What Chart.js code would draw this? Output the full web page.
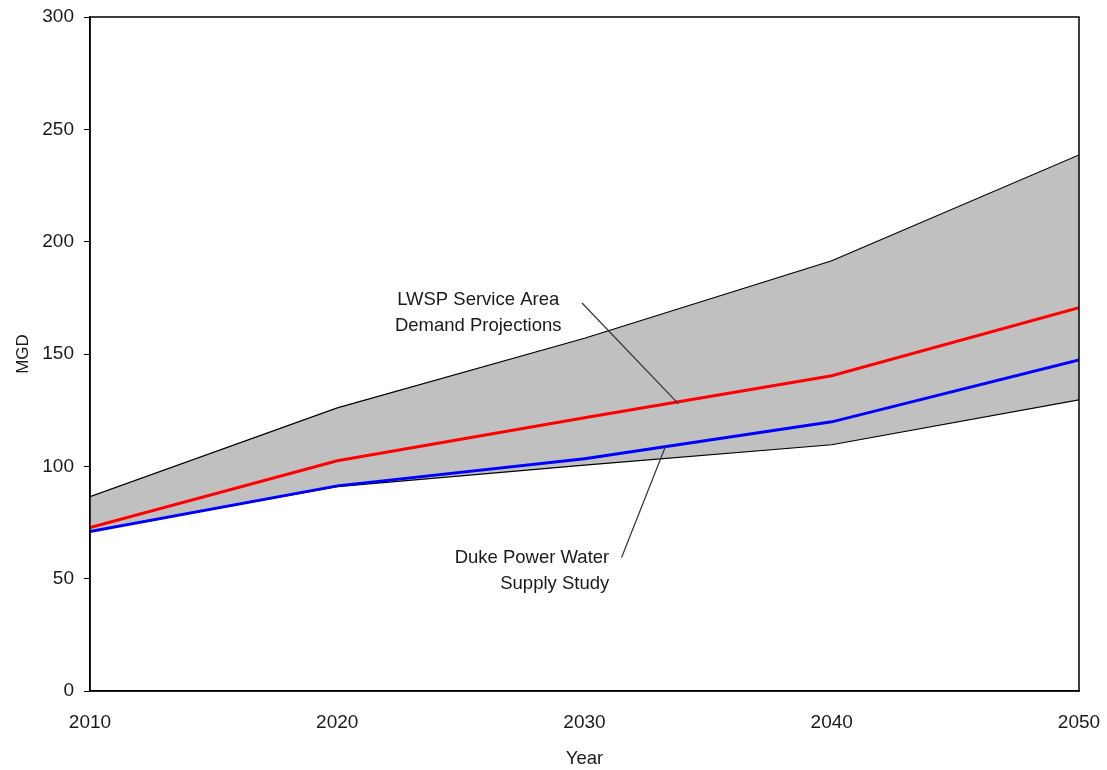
<!DOCTYPE html>
<html>
<head>
<meta charset="utf-8">
<script src="https://cdn.jsdelivr.net/npm/chart.js@4/dist/chart.umd.min.js"></script>
<style>
  html, body { margin: 0; padding: 0; background: #ffffff; }
  #wrap { width: 1107px; height: 770px; position: relative; }
</style>
</head>
<body>
<div id="wrap"><canvas id="c" width="1107" height="770"></canvas></div>
<script>
// Projection years and demand series (MGD)
const years = [2010, 2020, 2030, 2040, 2050];
const rangeHigh = [86.5, 126, 157, 191.5, 238.6];
const rangeLow = [71, 91, 100.5, 109.6, 129.6];
const lwspDemand = [72.7, 102.5, 121.6, 140.3, 170.6];
const dukeStudy = [71, 91.3, 103.4, 119.8, 147.4];
const yTicks = [0, 50, 100, 150, 200, 250, 300];

// Callout labels, anchored in data units (year, MGD)
const callouts = [
  { lines: ['LWSP Service Area', 'Demand Projections'], x: 2025.7, y: [174, 162.6], align: 'center',
    from: [2029.9, 172.7], to: [2033.8, 127.8] },
  { lines: ['Duke Power Water', 'Supply Study'], x: 2031.0, y: [59.4, 47.8], align: 'right',
    from: [2031.5, 59.4], to: [2033.27, 108.7] }
];

const pts = arr => years.map((yr, i) => ({ x: yr, y: arr[i] }));
const FONT = '"Liberation Sans", Arial, sans-serif';
const TXT = '#1a1a1a';

const frame = {
  id: 'frame',
  afterDatasetsDraw(chart) {
    const { ctx, chartArea: a } = chart;
    ctx.save();
    ctx.strokeStyle = '#000';
    ctx.lineWidth = 1.5;
    ctx.strokeRect(a.left, a.top, a.right - a.left, a.bottom - a.top);
    ctx.restore();
  }
};

const calloutPlugin = {
  id: 'callouts',
  afterDraw(chart) {
    const { ctx, scales: { x, y } } = chart;
    ctx.save();
    ctx.font = '18.5px ' + FONT;
    ctx.fillStyle = TXT;
    ctx.textBaseline = 'middle';
    callouts.forEach(c => {
      ctx.textAlign = c.align;
      c.lines.forEach((t, i) => ctx.fillText(t, x.getPixelForValue(c.x), y.getPixelForValue(c.y[i])));
      ctx.beginPath();
      ctx.strokeStyle = '#333';
      ctx.lineWidth = 1.2;
      ctx.moveTo(x.getPixelForValue(c.from[0]), y.getPixelForValue(c.from[1]));
      ctx.lineTo(x.getPixelForValue(c.to[0]), y.getPixelForValue(c.to[1]));
      ctx.stroke();
    });
    ctx.restore();
  }
};

new Chart(document.getElementById('c'), {
  type: 'line',
  data: {
    datasets: [
      { label: 'High', data: pts(rangeHigh), borderColor: '#000', borderWidth: 1.2,
        backgroundColor: '#c0c0c0', fill: 1, pointRadius: 0, order: 3 },
      { label: 'Low', data: pts(rangeLow), borderColor: '#000', borderWidth: 1.2,
        fill: false, pointRadius: 0, order: 2 },
      { label: 'LWSP Service Area Demand Projections', data: pts(lwspDemand), borderColor: '#ff0000',
        borderWidth: 3, fill: false, pointRadius: 0, order: 1 },
      { label: 'Duke Power Water Supply Study', data: pts(dukeStudy), borderColor: '#0000ff',
        borderWidth: 3, fill: false, pointRadius: 0, order: 0 }
    ]
  },
  options: {
    responsive: false,
    animation: false,
    layout: { padding: { top: 17, right: 28, left: 0, bottom: 0 } },
    plugins: { legend: { display: false }, tooltip: { enabled: false } },
    scales: {
      x: {
        type: 'linear', min: 2010, max: 2050,
        afterBuildTicks: s => { s.ticks = years.map(v => ({ value: v })); },
        grid: { display: false, drawOnChartArea: false, drawTicks: true, tickLength: 6, tickColor: '#000' },
        border: { display: true, color: '#000', width: 1.5 },
        ticks: { color: TXT, font: { size: 19, family: FONT }, padding: 14, maxRotation: 0,
                 callback: v => String(v) },
        title: { display: true, text: 'Year', color: TXT, font: { size: 18.5, family: FONT }, padding: { top: 2, bottom: 0 } },
        afterFit: s => { s.height = 79; s.paddingLeft = 0; s.paddingRight = 0; }
      },
      y: {
        min: 0, max: 300,
        afterBuildTicks: s => { s.ticks = yTicks.map(v => ({ value: v })); },
        grid: { display: true, drawOnChartArea: false, drawTicks: true, tickLength: 6, tickColor: '#000' },
        border: { display: true, color: '#000', width: 1.5 },
        ticks: { color: TXT, font: { size: 19, family: FONT }, padding: 10 },
        title: { display: true, text: 'MGD', color: TXT, font: { size: 17, family: FONT }, padding: { top: 13, bottom: 0 } },
        afterFit: s => { s.width = 90; s.paddingTop = 0; s.paddingBottom = 0; }
      }
    }
  },
  plugins: [frame, calloutPlugin]
});
</script>
</body>
</html>
